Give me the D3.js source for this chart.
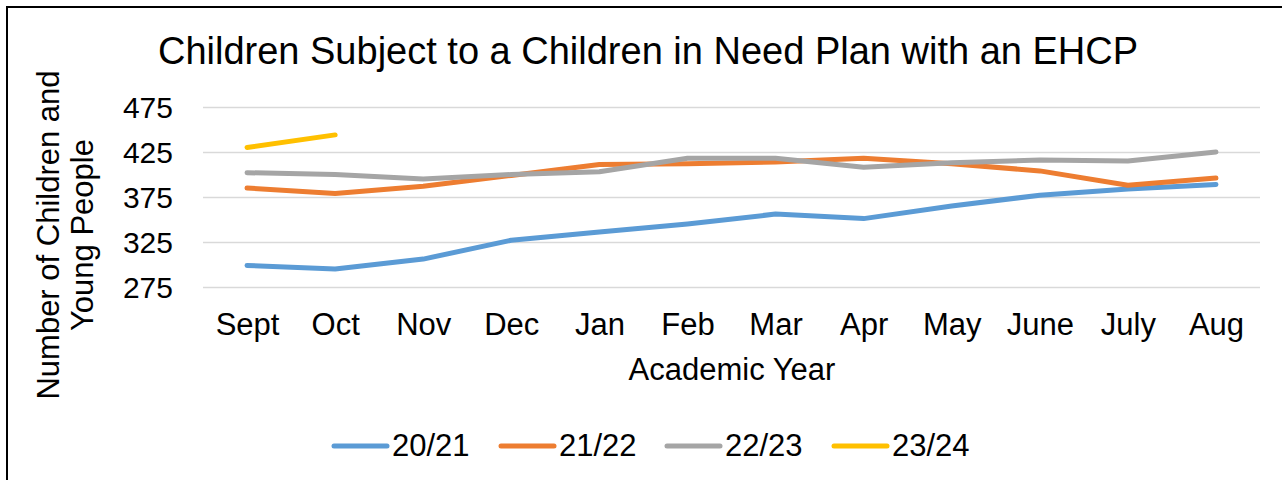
<!DOCTYPE html>
<html>
<head>
<meta charset="utf-8">
<script src="https://cdn.jsdelivr.net/npm/d3@7"></script>
<style>
  html, body { margin: 0; padding: 0; background: #fff; }
  svg { display: block; font-family: "Liberation Sans", Arial, sans-serif; }
</style>
</head>
<body>
<svg id="chart" width="1282" height="480"></svg>
<script>
const months = ["Sept","Oct","Nov","Dec","Jan","Feb","Mar","Apr","May","June","July","Aug"];
const seriesNames = ["20/21","21/22","22/23","23/24"];
const s2021 = [299, 295, 306, 327, 336, 345, 356, 351, 365, 377, 384, 389];
const s2122 = [385, 379, 387, 399, 411, 412, 414, 418, 412, 404, 388, 396];
const s2223 = [402, 400, 395, 400, 403, 418, 418, 408, 413, 416, 415, 425];
const s2324 = [430, 444];
const yTicks = [275, 325, 375, 425, 475];
const colors = ["#5B9BD5", "#ED7D31", "#A5A5A5", "#FFC000"];

const series = [s2021, s2122, s2223, s2324];

(function () {
const svg = d3.select("#chart");
const pLeft = 203, pRight = 1260, pTop = 107, pBottom = 287;

// border
svg.append("rect").attr("x", 7).attr("y", 7).attr("width", 1290).attr("height", 500)
  .attr("fill", "none").attr("stroke", "#000").attr("stroke-width", 2);

const x = d3.scalePoint().domain(months).range([pLeft, pRight]).padding(0.5);
const y = d3.scaleLinear().domain([275, 475]).range([pBottom, pTop]);

// gridlines + y axis
const yAxis = d3.axisLeft(y).tickValues(yTicks).tickSize(-(pRight - pLeft)).tickPadding(30);
const gy = svg.append("g").attr("transform", `translate(${pLeft},0)`).call(yAxis);
gy.select(".domain").remove();
gy.selectAll(".tick line").attr("stroke", "#D9D9D9").attr("stroke-width", 1.5);
gy.selectAll(".tick text").attr("font-size", 30).attr("fill", "#000")
  .attr("font-family", '"Liberation Sans", Arial, sans-serif').attr("x", -30).attr("dy", "0.35em");

// x axis
const xAxis = d3.axisBottom(x).tickSize(0).tickPadding(0);
const gx = svg.append("g").attr("transform", `translate(0,${pBottom})`).call(xAxis);
gx.select(".domain").remove();
gx.selectAll(".tick text").attr("font-size", 31).attr("fill", "#000")
  .attr("font-family", '"Liberation Sans", Arial, sans-serif').attr("y", 48).attr("dy", 0);

// lines
const line = d3.line().x((d, i) => x(months[i])).y(d => y(d));
series.forEach((s, k) => {
  svg.append("path").datum(s).attr("d", line).attr("fill", "none")
    .attr("stroke", colors[k]).attr("stroke-width", 5)
    .attr("stroke-linejoin", "round").attr("stroke-linecap", "round");
});

// title
svg.append("text").attr("x", 648).attr("y", 64).attr("text-anchor", "middle")
  .attr("font-size", 38).attr("fill", "#000")
  .text("Children Subject to a Children in Need Plan with an EHCP");

// x axis title
svg.append("text").attr("x", 732).attr("y", 380).attr("text-anchor", "middle")
  .attr("font-size", 31).attr("fill", "#000").text("Academic Year");

// y axis title
const yt = svg.append("text").attr("transform", "translate(0,235) rotate(-90)")
  .attr("text-anchor", "middle").attr("font-size", 31).attr("fill", "#000");
yt.append("tspan").attr("x", 0).attr("y", 59).text("Number of Children and");
yt.append("tspan").attr("x", 0).attr("y", 93).text("Young People");

// legend
const legendX = [334, 501, 667, 834];
seriesNames.forEach((n, k) => {
  const g = svg.append("g").attr("transform", `translate(${legendX[k]},446)`);
  g.append("line").attr("x1", 0).attr("x2", 53).attr("y1", 0).attr("y2", 0)
    .attr("stroke", colors[k]).attr("stroke-width", 5).attr("stroke-linecap", "round");
  g.append("text").attr("x", 58).attr("y", 10).attr("font-size", 31).attr("fill", "#000").text(n);
});
})();
</script>
</body>
</html>
